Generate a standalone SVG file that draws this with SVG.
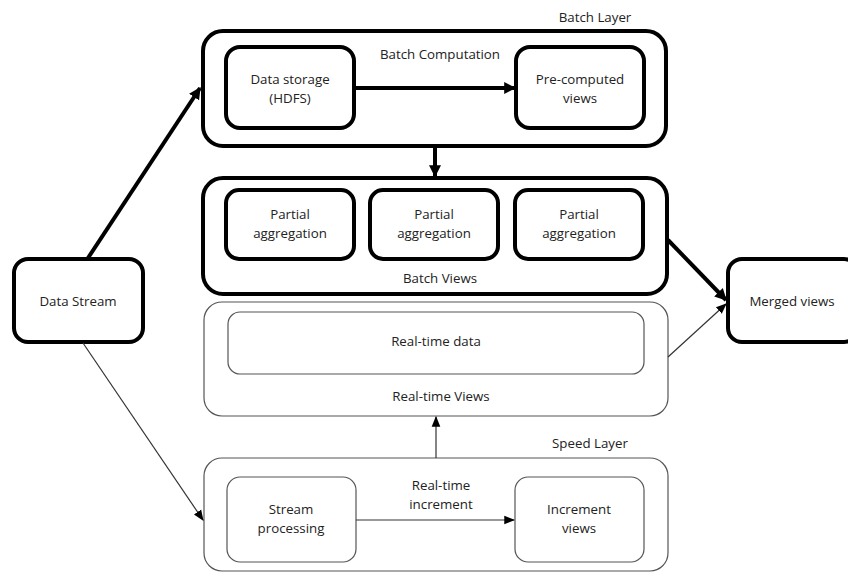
<svg xmlns="http://www.w3.org/2000/svg" width="848" height="572" viewBox="0 0 848 572">
<defs>
<style>
text{font-family:"Open Sans","Noto Sans","DejaVu Sans",sans-serif;font-size:13.3px;fill:#222;text-anchor:middle;dominant-baseline:middle}
.thick{fill:#fff;stroke:#000;stroke-width:4}
.thin{fill:#fff;stroke:#555;stroke-width:1.2}
.lt{fill:none;stroke:#000;stroke-width:4}
.ln{fill:none;stroke:#333;stroke-width:1.2}
</style>
<marker id="ah" viewBox="0 0 10 10" refX="9" refY="5" markerWidth="3" markerHeight="3" orient="auto" markerUnits="strokeWidth"><path d="M0,0L10,5L0,10z" fill="#000"/></marker>
<marker id="ahs" viewBox="0 0 10 10" refX="9" refY="5" markerWidth="9" markerHeight="9" orient="auto" markerUnits="strokeWidth"><path d="M0,1L10,5L0,9z" fill="#000"/></marker>
</defs>
<g id="batch-layer">
<text x="595" y="18">Batch Layer</text>
<rect class="thick" x="203" y="31" width="463" height="115" rx="20"/>
<text x="440" y="55">Batch Computation</text>
</g>
<g id="data-storage"><rect class="thick" x="226" y="47" width="128" height="81" rx="14"/><text x="290" y="80">Data storage</text><text x="290" y="99">(HDFS)</text></g>
<g id="precomputed"><rect class="thick" x="516" y="47" width="128" height="81" rx="14"/><text x="580" y="80">Pre-computed</text><text x="580" y="99">views</text></g>
<g id="batch-views"><rect class="thick" x="203" y="178" width="464" height="116" rx="20"/><text x="440" y="279">Batch Views</text></g>
<g id="partial1"><rect class="thick" x="226" y="190" width="128" height="69" rx="13"/><text x="290" y="215">Partial</text><text x="290" y="234">aggregation</text></g>
<g id="partial2"><rect class="thick" x="370" y="190" width="128" height="69" rx="13"/><text x="434" y="215">Partial</text><text x="434" y="234">aggregation</text></g>
<g id="partial3"><rect class="thick" x="515" y="190" width="128" height="69" rx="13"/><text x="579" y="215">Partial</text><text x="579" y="234">aggregation</text></g>
<g id="data-stream"><rect class="thick" x="14" y="259" width="129" height="83" rx="14"/><text x="78" y="302">Data Stream</text></g>
<g id="merged-views"><rect class="thick" x="728" y="259" width="130" height="83" rx="14"/><text x="792" y="302">Merged views</text></g>
<g id="realtime-views"><rect class="thin" x="204" y="302" width="464" height="114" rx="18"/><text x="441" y="397">Real-time Views</text></g>
<g id="realtime-data"><rect class="thin" x="228" y="312" width="416" height="62" rx="12"/><text x="436" y="342">Real-time data</text></g>
<g id="speed-layer"><text x="590" y="444">Speed Layer</text><rect class="thin" x="204" y="458" width="464" height="113" rx="18"/></g>
<g id="stream-processing"><rect class="thin" x="227" y="477" width="129" height="85" rx="13"/><text x="291" y="510">Stream</text><text x="291" y="529">processing</text></g>
<g id="increment-views"><rect class="thin" x="515" y="477" width="129" height="85" rx="13"/><text x="579" y="510">Increment</text><text x="579" y="529">views</text></g>
<g id="connectors">
<path class="lt" d="M88,258L200,88" marker-end="url(#ah)"/>
<path class="lt" d="M354,88L515,88" marker-end="url(#ah)"/>
<path class="lt" d="M435,147L435,176" marker-end="url(#ah)"/>
<path class="lt" d="M668,240L726,300" marker-end="url(#ah)"/>
<path class="ln" d="M668,357L726,304" marker-end="url(#ahs)"/>
<path class="ln" d="M436,458L436,417" marker-end="url(#ahs)"/>
<path class="ln" d="M356,520L514,520" marker-end="url(#ahs)"/>
<path class="ln" d="M83,343L203,520" marker-end="url(#ahs)"/>
<text x="441" y="486">Real-time</text>
<text x="441" y="505">increment</text>
</g>
</svg>
